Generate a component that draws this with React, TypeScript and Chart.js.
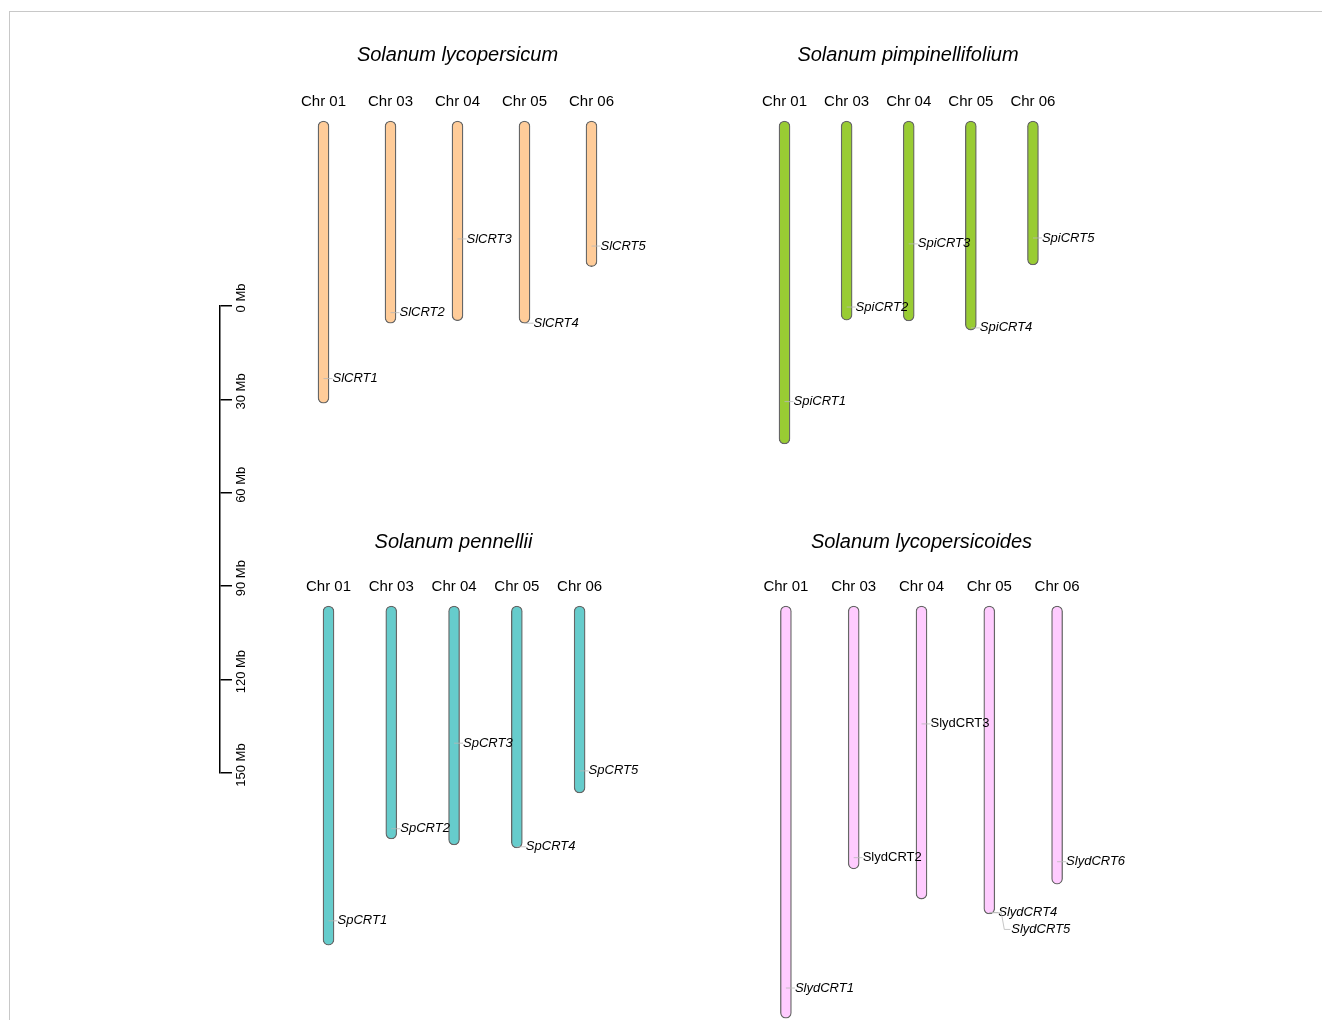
import React, { useEffect, useRef } from "react";
import { Chart, registerables } from "chart.js";

Chart.register(...registerables);
Chart.defaults.font.family = "'Liberation Sans', Arial, sans-serif";

// ---------- data ----------
const chromosomes = ["Chr 01", "Chr 03", "Chr 04", "Chr 05", "Chr 06"];

const slTitle = "Solanum lycopersicum";
const slLengths = [90.7, 65.0, 64.2, 65.0, 46.8];
const slGenes = ["SlCRT1", "SlCRT2", "SlCRT3", "SlCRT4", "SlCRT5"];
const slGeneChr = [0, 1, 2, 3, 4];
const slGenePos = [82.8, 61.6, 37.9, 65.0, 40.2];

const spiTitle = "Solanum pimpinellifolium";
const spiLengths = [103.8, 64.0, 64.3, 67.2, 46.3];
const spiGenes = ["SpiCRT1", "SpiCRT2", "SpiCRT3", "SpiCRT4", "SpiCRT5"];
const spiGeneChr = [0, 1, 2, 3, 4];
const spiGenePos = [90.2, 59.8, 39.5, 66.5, 37.6];

const spTitle = "Solanum pennellii";
const spLengths = [109.0, 74.9, 76.8, 77.8, 60.1];
const spGenes = ["SpCRT1", "SpCRT2", "SpCRT3", "SpCRT4", "SpCRT5"];
const spGeneChr = [0, 1, 2, 3, 4];
const spGenePos = [101.2, 71.6, 44.1, 77.4, 53.0];

const slydTitle = "Solanum lycopersicoides";
const slydLengths = [132.5, 84.5, 94.2, 99.0, 89.4];
const slydGenes = ["SlydCRT1", "SlydCRT2", "SlydCRT3", "SlydCRT4", "SlydCRT5", "SlydCRT6"];
const slydGeneChr = [0, 1, 2, 3, 3, 4];
const slydGenePos = [122.8, 80.9, 37.9, 98.5, 98.6, 82.2];
const slydUpright = ["SlydCRT2", "SlydCRT3"];

const scaleMin = 0;
const scaleMax = 150;
const scaleStep = 30;

// ---------- layout / style ----------
const PX_PER_MB = 3.111;
const HEADER = 79;
const EXTRA_RIGHT = 80;
const FONT = "'Liberation Sans', Arial, sans-serif";

type PanelProps = {
  title: string;
  lengths: number[];
  genes: string[];
  geneChr: number[];
  genePos: number[];
  upright?: string[];
  color: string;
  titleShift: number;
  box: { left: number; top: number; width: number; height: number };
};

function Panel(props: PanelProps) {
  const ref = useRef<HTMLCanvasElement | null>(null);
  const { box } = props;
  const cw = box.width + EXTRA_RIGHT;
  useEffect(() => {
    if (!ref.current) return;
    const { title, lengths, genes, geneChr, genePos, upright = [], color, titleShift } = props;
    const geneLabelPlugin = {
      id: "geneLabels",
      afterDatasetsDraw(chart: any) {
        const ctx = chart.ctx;
        const xs = chart.scales.x;
        const ys = chart.scales.y;
        const items = genes.map((g, i) => ({ name: g, chr: geneChr[i], pos: genePos[i] }));
        items.sort((a, b) => (a.chr - b.chr) || (a.pos - b.pos));
        let prevChr = -1;
        let prevY = -1e9;
        ctx.save();
        for (const it of items) {
          const x0 = xs.getPixelForValue(it.chr);
          const y = ys.getPixelForValue(it.pos);
          let ly = y;
          let shifted = false;
          if (it.chr === prevChr && ly - prevY < 15) {
            ly = prevY + 17;
            shifted = true;
          }
          ctx.strokeStyle = "#b8b8b8";
          ctx.lineWidth = 0.8;
          ctx.beginPath();
          let tx = x0 + 9;
          if (shifted) {
            ctx.moveTo(x0, y);
            ctx.lineTo(x0 + 12, y);
            ctx.lineTo(x0 + 15, ly);
            ctx.lineTo(x0 + 21, ly);
            tx = x0 + 22;
          } else {
            ctx.moveTo(x0, y);
            ctx.lineTo(x0 + 9, y);
          }
          ctx.stroke();
          ctx.fillStyle = "#000";
          ctx.textAlign = "left";
          ctx.textBaseline = "middle";
          ctx.font = (upright.includes(it.name) ? "" : "italic ") + "13px " + FONT;
          ctx.fillText(it.name, tx, ly);
          prevChr = it.chr;
          prevY = ly;
        }
        ctx.restore();
      },
    };
    const chart = new Chart(ref.current, {
      type: "bar",
      data: {
        labels: chromosomes,
        datasets: [
          {
            data: lengths.map((l) => [0, l]) as any,
            backgroundColor: color,
            borderColor: "#666666",
            borderWidth: 1.3,
            borderRadius: 6,
            borderSkipped: false,
            barThickness: 11,
            clip: false as any,
          },
        ],
      },
      options: {
        responsive: false,
        animation: false,
        events: [],
        layout: { padding: { left: 0, top: 0, bottom: 0, right: EXTRA_RIGHT } },
        scales: {
          x: {
            type: "category",
            position: "top",
            grid: { display: false, drawTicks: false },
            border: { display: false },
            ticks: { padding: 10, color: "#000", font: { size: 15 } },
            afterFit: (s: any) => {
              s.height = HEADER - 50;
            },
          },
          y: {
            display: false,
            reverse: true,
            min: 0,
            max: (box.height - HEADER) / PX_PER_MB,
          },
        },
        plugins: {
          legend: { display: false },
          tooltip: { enabled: false },
          title: {
            display: true,
            text: title,
            color: "#000",
            font: { size: 20, style: "italic", weight: "normal" },
            padding: { top: titleShift, bottom: 26 - titleShift },
          },
        },
      },
      plugins: [geneLabelPlugin],
    });
    return () => chart.destroy();
  }, []);
  return (
    <canvas
      ref={ref}
      width={cw}
      height={box.height}
      style={{ position: "absolute", left: box.left, top: box.top, width: cw, height: box.height }}
    />
  );
}

function ScaleBar() {
  const ref = useRef<HTMLCanvasElement | null>(null);
  const box = { left: 200, top: 276, width: 60, height: 527 };
  useEffect(() => {
    if (!ref.current) return;
    const labelPlugin = {
      id: "scaleLabels",
      afterDraw(chart: any) {
        const ctx = chart.ctx;
        const s = chart.scales.y;
        ctx.save();
        ctx.fillStyle = "#000";
        ctx.font = "13px " + FONT;
        ctx.textAlign = "center";
        ctx.textBaseline = "middle";
        s.ticks.forEach((t: any, i: number) => {
          const py = s.getPixelForTick(i);
          ctx.save();
          ctx.translate(s.left + 21, py - 8);
          ctx.rotate(-Math.PI / 2);
          ctx.fillText(t.value + " Mb", 0, 0);
          ctx.restore();
        });
        ctx.restore();
      },
    };
    const chart = new Chart(ref.current, {
      type: "bar",
      data: { labels: [""], datasets: [] },
      options: {
        responsive: false,
        animation: false,
        events: [],
        layout: { padding: { top: 30, bottom: 30, left: 0, right: 0 } },
        scales: {
          x: { display: false },
          y: {
            position: "right",
            reverse: true,
            min: scaleMin,
            max: scaleMax,
            ticks: { stepSize: scaleStep, display: false },
            grid: { drawOnChartArea: false, drawTicks: true, tickLength: 12, color: "#000", lineWidth: 1.5 },
            border: { display: true, color: "#000", width: 1.5 },
            afterFit: (s: any) => {
              s.width = 40;
            },
          },
        },
        plugins: { legend: { display: false }, tooltip: { enabled: false } },
      },
      plugins: [labelPlugin],
    });
    return () => chart.destroy();
  }, []);
  return (
    <canvas
      ref={ref}
      width={box.width}
      height={box.height}
      style={{ position: "absolute", left: box.left, top: box.top, width: box.width, height: box.height }}
    />
  );
}

export default function App() {
  return (
    <div
      style={{
        position: "fixed",
        left: 0,
        top: 0,
        width: 1322,
        height: 1020,
        overflow: "hidden",
        background: "#fff",
      }}
    >
      <div
        style={{
          position: "absolute",
          left: 9,
          top: 11,
          width: 1400,
          height: 1100,
          borderTop: "1px solid #c8c8c8",
          borderLeft: "1px solid #c8c8c8",
        }}
      />
      <ScaleBar />
      <Panel
        title={slTitle}
        lengths={slLengths}
        genes={slGenes}
        geneChr={slGeneChr}
        genePos={slGenePos}
        color="#FFCC99"
        titleShift={1}
        box={{ left: 290, top: 42, width: 335, height: 437 }}
      />
      <Panel
        title={spiTitle}
        lengths={spiLengths}
        genes={spiGenes}
        geneChr={spiGeneChr}
        genePos={spiGenePos}
        color="#99CC33"
        titleShift={1}
        box={{ left: 752, top: 42, width: 312, height: 437 }}
      />
      <Panel
        title={spTitle}
        lengths={spLengths}
        genes={spGenes}
        geneChr={spGeneChr}
        genePos={spGenePos}
        color="#66CCCC"
        titleShift={3}
        box={{ left: 296, top: 527, width: 315, height: 493 }}
      />
      <Panel
        title={slydTitle}
        lengths={slydLengths}
        genes={slydGenes}
        geneChr={slydGeneChr}
        genePos={slydGenePos}
        upright={slydUpright}
        color="#FFCCFF"
        titleShift={3}
        box={{ left: 752, top: 527, width: 339, height: 493 }}
      />
    </div>
  );
}
